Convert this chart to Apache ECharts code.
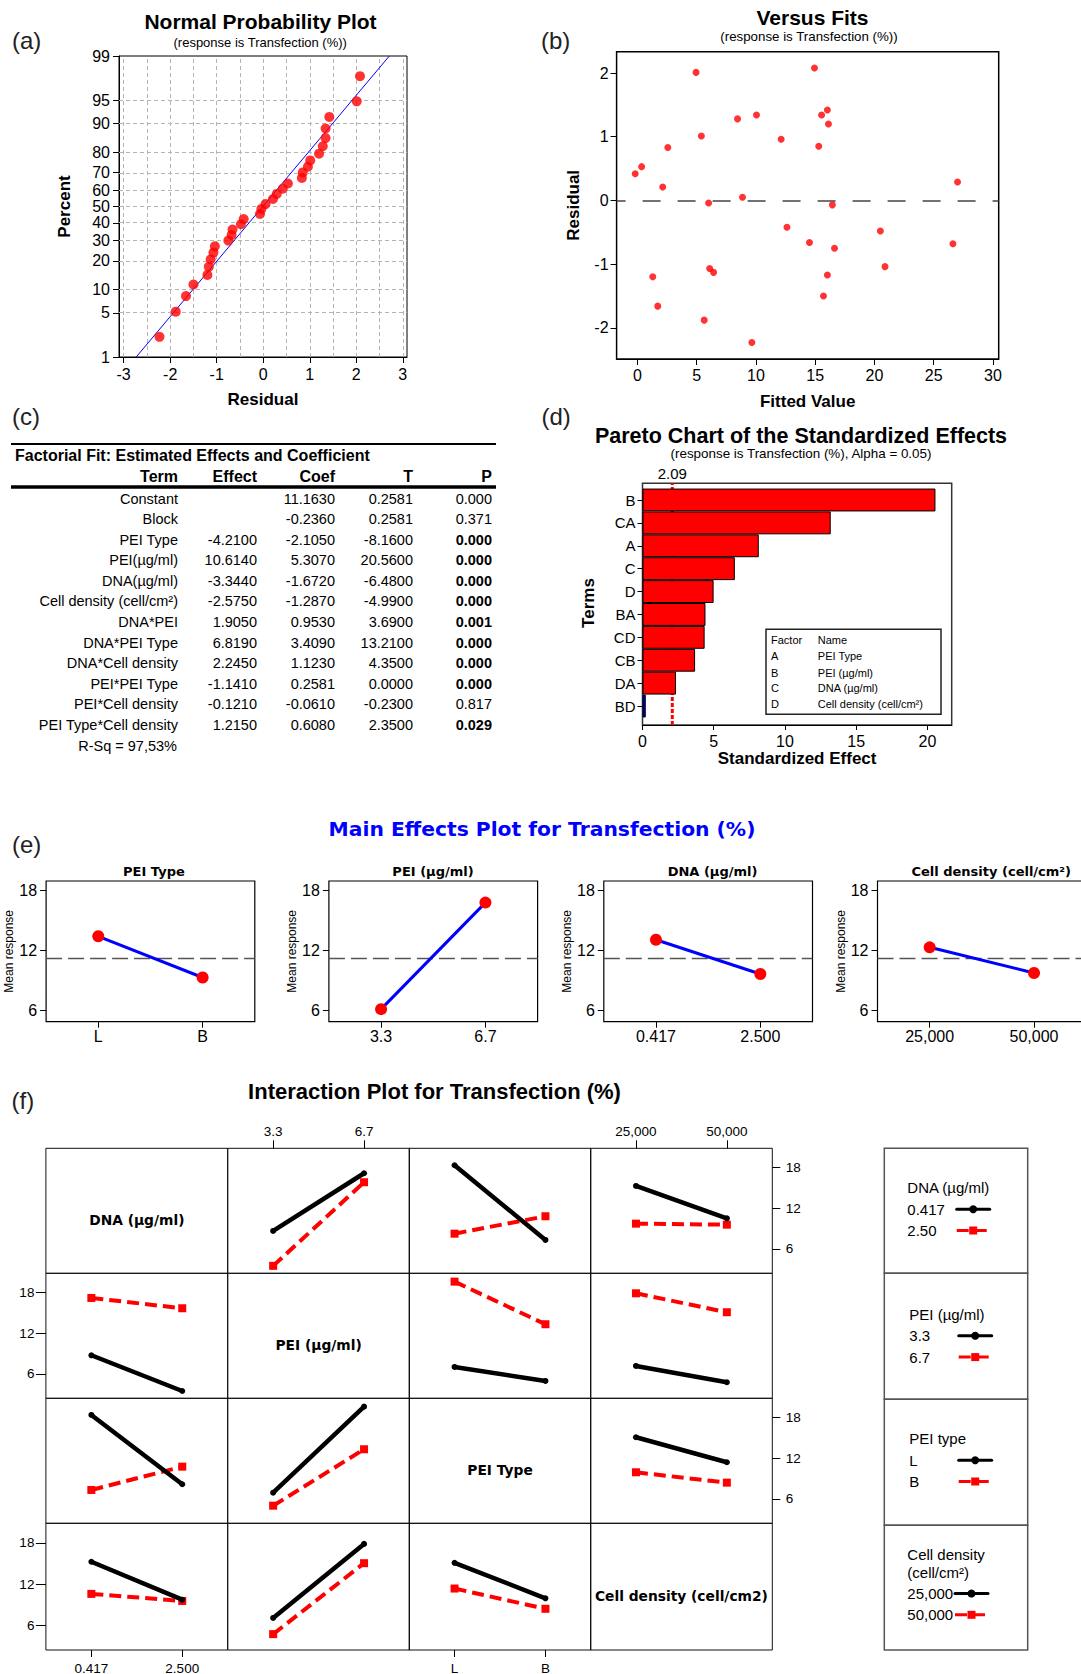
<!DOCTYPE html>
<html>
<head>
<meta charset="utf-8">
<title>Transfection DOE analysis</title>
<script src="https://cdn.jsdelivr.net/npm/echarts@6.0.0/dist/echarts.min.js"></script>
<style>
html,body{margin:0;padding:0;background:#ffffff;}
#chart{width:1081px;height:1674px;}
</style>
</head>
<body>
<div id="chart"></div>
<script>
// ================= DATA =================
// (a) normal probability plot / (b) versus fits
const fittedValues = [-0.18,0.36,1.30,1.72,2.14,2.57,4.95,5.40,5.64,6.01,6.10,6.43,8.45,8.87,9.66,10.05,12.13,12.62,14.52,14.94,15.30,15.54,15.70,16.03,16.03,16.12,16.45,16.63,20.50,20.89,26.62,27.01];
const residuals    = [0.42,0.53,-1.20,-1.66,0.21,0.83,2.01,1.01,-1.88,-0.04,-1.07,-1.13,1.28,0.05,-2.23,1.34,0.96,-0.42,-0.66,2.08,0.85,1.34,-1.50,1.42,-1.17,1.20,-0.07,-0.75,-0.48,-1.04,-0.68,0.29];
const probResiduals = [-2.23,-1.88,-1.66,-1.50,-1.20,-1.17,-1.13,-1.07,-1.04,-0.75,-0.68,-0.66,-0.48,-0.42,-0.07,-0.04,0.05,0.21,0.29,0.42,0.53,0.83,0.85,0.96,1.01,1.20,1.28,1.34,1.34,1.42,2.01,2.08];
const probPercents  = [2.2,5.2,8.3,11.4,14.5,17.6,20.7,23.8,26.9,29.9,33.0,36.1,39.2,42.3,45.4,48.5,51.5,54.6,57.7,60.8,63.9,67.0,70.1,73.1,76.2,79.3,82.4,85.5,88.6,91.7,94.8,97.8];
const probFitResidual = [-2.73, 2.71];
const probFitPercent  = [1, 99];
const probTickPercent = [1,5,10,20,30,40,50,60,70,80,90,95,99];
const residTickLabels = [-3,-2,-1,0,1,2,3];
const residGridLines  = [-3,-2.5,-2,-1.5,-1,-0.5,0,0.5,1,1.5,2,2.5,3];
const fitTickLabels   = [0,5,10,15,20,25,30];
const residualTickLabels = [-2,-1,0,1,2];

// (c) table
const tableTitle  = 'Factorial Fit: Estimated Effects and Coefficient';
const tableHeader = ['Term','Effect','Coef','T','P'];
const tableTerms  = ['Constant','Block','PEI Type','PEI(µg/ml)','DNA(µg/ml)','Cell density (cell/cm²)','DNA*PEI','DNA*PEI Type','DNA*Cell density','PEI*PEI Type','PEI*Cell density','PEI Type*Cell density'];
const tableEffect = ['','','-4.2100','10.6140','-3.3440','-2.5750','1.9050','6.8190','2.2450','-1.1410','-0.1210','1.2150'];
const tableCoef   = ['11.1630','-0.2360','-2.1050','5.3070','-1.6720','-1.2870','0.9530','3.4090','1.1230','0.2581','-0.0610','0.6080'];
const tableT      = ['0.2581','0.2581','-8.1600','20.5600','-6.4800','-4.9900','3.6900','13.2100','4.3500','0.0000','-0.2300','2.3500'];
const tableP      = ['0.000','0.371','0.000','0.000','0.000','0.000','0.001','0.000','0.000','0.000','0.817','0.029'];
const tablePBold  = [false,false,true,true,true,true,true,true,true,true,false,true];
const tableRSq    = 'R-Sq = 97,53%';

// (d) pareto
const paretoTerms   = ['B','CA','A','C','D','BA','CD','CB','DA','BD'];
const paretoEffects = [20.56,13.21,8.16,6.48,4.99,4.42,4.36,3.69,2.35,0.23];
const paretoCritical = 2.09;
const paretoTicks = [0,5,10,15,20];
const paretoFactorLetters = ['A','B','C','D'];
const paretoFactorNames   = ['PEI Type','PEI (µg/ml)','DNA (µg/ml)','Cell density (cell/cm²)'];

// (e) main effects
const mainFactorTitles = ['PEI Type','PEI (µg/ml)','DNA (µg/ml)','Cell density (cell/cm²)'];
const mainLevelLabels  = [['L','B'],['3.3','6.7'],['0.417','2.500'],['25,000','50,000']];
const meanPEIType     = [13.4, 9.3];
const meanPEI         = [6.15, 16.75];
const meanDNA         = [13.05, 9.65];
const meanCellDensity = [12.3, 9.75];
const overallMean = 11.25;
const meanTicks = [6,12,18];

// (f) interaction plot: [low-level trace, high-level trace] over the two x levels
const intFactorLabels = ['DNA (µg/ml)','PEI (µg/ml)','PEI Type','Cell density (cell/cm2)'];
const intAxisLevels   = [['0.417','2.500'],['3.3','6.7'],['L','B'],['25,000','50,000']];
const intLegendTitles = [['DNA (µg/ml)'],['PEI (µg/ml)'],['PEI type'],['Cell density','(cell/cm²)']];
const intLegendLevels = [['0.417','2.50'],['3.3','6.7'],['L','B'],['25,000','50,000']];
const intDNA_byPEI   = [[8.65,17.17],[3.50,15.84]];
const intDNA_byType  = [[18.35,7.32],[8.25,10.82]];
const intDNA_byCell  = [[15.29,10.52],[9.73,9.58]];
const intPEI_byDNA   = [[8.75,3.48],[17.21,15.69]];
const intPEI_byType  = [[7.03,4.96],[19.62,13.33]];
const intPEI_byCell  = [[7.18,4.77],[17.90,15.10]];
const intType_byDNA  = [[18.39,8.16],[7.32,10.76]];
const intType_byPEI  = [[6.92,19.62],[5.00,13.33]];
const intType_byCell = [[15.10,11.41],[9.93,8.40]];
const intCell_byDNA  = [[15.25,9.73],[10.57,9.54]];
const intCell_byPEI  = [[7.07,17.85],[4.71,15.04]];
const intCell_byType = [[15.10,9.93],[11.35,8.40]];

// ================= BUILD =================
const FF = '"Liberation Sans", Arial, Helvetica, sans-serif';
const FV = '"DejaVu Sans", Verdana, sans-serif';
const grid = [], xAxis = [], yAxis = [], series = [], graphic = [], legend = [];

function probit(p) {
  const a=[-3.969683028665376e+01,2.209460984245205e+02,-2.759285104469687e+02,1.383577518672690e+02,-3.066479806614716e+01,2.506628277459239e+00];
  const b=[-5.447609879822406e+01,1.615858368580409e+02,-1.556989798598866e+02,6.680131188771972e+01,-1.328068155288572e+01];
  const c=[-7.784894002430293e-03,-3.223964580411365e-01,-2.400758277161838e+00,-2.549732539343734e+00,4.374664141464968e+00,2.938163982698783e+00];
  const d=[7.784695709041462e-03,3.224671290700398e-01,2.445134137142996e+00,3.754408661907416e+00];
  const pl=0.02425, ph=1-pl; let q, r;
  if (p < pl) { q=Math.sqrt(-2*Math.log(p)); return (((((c[0]*q+c[1])*q+c[2])*q+c[3])*q+c[4])*q+c[5])/((((d[0]*q+d[1])*q+d[2])*q+d[3])*q+1); }
  if (p > ph) { q=Math.sqrt(-2*Math.log(1-p)); return -(((((c[0]*q+c[1])*q+c[2])*q+c[3])*q+c[4])*q+c[5])/((((d[0]*q+d[1])*q+d[2])*q+d[3])*q+1); }
  q=p-0.5; r=q*q;
  return (((((a[0]*r+a[1])*r+a[2])*r+a[3])*r+a[4])*r+a[5])*q/(((((b[0]*r+b[1])*r+b[2])*r+b[3])*r+b[4])*r+1);
}

function T(x, y, text, size, weight, align, color, family) {
  graphic.push({type:'text', x:x, y:y, silent:true, z:10,
    style:{text:text, fontSize:size, fontWeight:weight||'normal', fontFamily:family||FF, fill:color||'#000', align:align||'left', verticalAlign:'middle'}});
}
function L(x1, y1, x2, y2, w) {
  graphic.push({type:'line', silent:true, shape:{x1:x1,y1:y1,x2:x2,y2:y2}, style:{stroke:'#000', lineWidth:w}});
}
function addGrid(left, top, width, height, bw, bc) {
  return grid.push({left:left, top:top, width:width, height:height, show:true, borderColor:bc||'#000', borderWidth:bw||1,
    backgroundColor:'transparent', containLabel:false, outerBoundsMode:'none'}) - 1;
}
function axis(o) {
  const a = {
    gridIndex:o.gridIndex, type:o.type||'value', show:o.show!==false,
    axisLine:{show:!!o.line, onZero:false, lineStyle:{color:'#000', width:o.lineWidth||1}},
    axisTick:{show:!!o.ticks, length:o.tickLen||6, alignWithLabel:true, lineStyle:{color:'#000', width:1}},
    axisLabel:{show:!!o.labels, margin:o.margin==null?8:o.margin, fontSize:o.fontSize||16, fontFamily:FF, color:'#000', hideOverlap:false},
    splitLine:{show:false}, splitArea:{show:false}, minorTick:{show:false}, minorSplitLine:{show:false}
  };
  ['position','min','max','data','inverse'].forEach(k => { if (o[k] !== undefined) a[k] = o[k]; });
  if (a.type === 'category') a.boundaryGap = true;
  if (Array.isArray(o.ticks)) a.axisTick.customValues = o.ticks;
  if (Array.isArray(o.labels)) a.axisLabel.customValues = o.labels;
  if (o.formatter) a.axisLabel.formatter = o.formatter;
  if (o.name) {
    a.name = o.name; a.nameLocation = 'middle'; a.nameGap = o.nameGap;
    if (o.nameRotate != null) a.nameRotate = o.nameRotate;
    a.nameTextStyle = {fontSize:o.nameSize||17, fontWeight:o.nameWeight||'bold', fontFamily:FF, color:'#000'};
  }
  return a;
}
function hiddenAxes(g) {
  const xi = xAxis.push(axis({gridIndex:g, show:false, min:0, max:1})) - 1;
  const yi = yAxis.push(axis({gridIndex:g, show:false, min:0, max:1})) - 1;
  return [xi, yi];
}

// ---------- panel labels ----------
T(12, 40, '(a)', 24, 'normal', 'left', '#222');
T(541, 40, '(b)', 24, 'normal', 'left', '#222');
T(12, 416.5, '(c)', 24, 'normal', 'left', '#222');
T(541.5, 416.5, '(d)', 24, 'normal', 'left', '#222');
T(12, 844, '(e)', 24, 'normal', 'left', '#222');
T(11.5, 1100.5, '(f)', 24, 'normal', 'left', '#222');

// ---------- (a) ----------
T(260.5, 21, 'Normal Probability Plot', 21, 'bold', 'center');
T(260.2, 42, '(response is Transfection (%))', 13, 'normal', 'center');
const zTicks = probTickPercent.map(p => probit(p / 100));
const gA = addGrid(119, 56, 288, 301, 1, '#000');
const xA = xAxis.push(axis({gridIndex:gA, min:-3.1, max:3.09, line:true, ticks:residTickLabels, labels:residTickLabels,
  tickLen:6, margin:9, fontSize:16, name:'Residual', nameGap:34})) - 1;
const yA = yAxis.push(axis({gridIndex:gA, min:zTicks[0], max:zTicks[zTicks.length-1], line:true, ticks:zTicks, labels:zTicks,
  tickLen:6, margin:9, fontSize:16, name:'Percent', nameGap:46,
  formatter: v => { let best = 0; zTicks.forEach((z,i) => { if (Math.abs(z - v) < Math.abs(zTicks[best] - v)) best = i; }); return String(probTickPercent[best]); }
})) - 1;
series.push({type:'scatter', xAxisIndex:xA, yAxisIndex:yA, z:3, symbolSize:10, itemStyle:{color:'#ff0000'},
  data: probResiduals.map((r,i) => [r, probit(probPercents[i] / 100)]),
  markLine:{silent:true, symbol:'none', z:1, animation:false, label:{show:false}, emphasis:{disabled:true},
    lineStyle:{color:'#b4b4b4', width:1, type:[4,3]},
    data: residGridLines.map(v => ({xAxis:v})).concat(zTicks.slice(1, -1).map(v => ({yAxis:v})))}});
series.push({type:'line', xAxisIndex:xA, yAxisIndex:yA, z:2, symbol:'none', lineStyle:{color:'#0000ff', width:1},
  data: probFitResidual.map((r,i) => [r, probit(probFitPercent[i] / 100)])});

// ---------- (b) ----------
T(812.5, 17.3, 'Versus Fits', 21, 'bold', 'center');
T(809, 36.7, '(response is Transfection (%))', 13.3, 'normal', 'center');
const gB = addGrid(616.6, 51.7, 382.1, 307.3, 1.5, '#000');
const xB = xAxis.push(axis({gridIndex:gB, min:-1.75, max:30.48, line:true, ticks:fitTickLabels, labels:fitTickLabels,
  tickLen:6, margin:8.5, fontSize:16, name:'Fitted Value', nameGap:34})) - 1;
const yB = yAxis.push(axis({gridIndex:gB, min:-2.49, max:2.335, line:true, ticks:residualTickLabels, labels:residualTickLabels,
  tickLen:6, margin:8, fontSize:16, name:'Residual', nameGap:35})) - 1;
series.push({type:'scatter', xAxisIndex:xB, yAxisIndex:yB, z:3, symbolSize:7, itemStyle:{color:'#ff0000'},
  data: fittedValues.map((f,i) => [f, residuals[i]]),
  markLine:{silent:true, symbol:'none', z:1, animation:false, label:{show:false}, emphasis:{disabled:true},
    lineStyle:{color:'#444', width:1.5, type:[18,17], dashOffset:9}, data:[{yAxis:0}]}});

// ---------- (c) table ----------
const tblColRight = [178, 257, 335, 413, 492];
L(11, 444, 496, 444, 2);
L(11, 487, 496, 487, 3.5);
T(15, 455, tableTitle, 16, 'bold', 'left');
tableHeader.forEach((h,i) => T(tblColRight[i], 476, h, 16, 'bold', 'right'));
tableTerms.forEach((term, i) => {
  const y = 498.7 + i * 20.55;
  T(tblColRight[0], y, term, 14.5, 'normal', 'right');
  if (tableEffect[i]) T(tblColRight[1], y, tableEffect[i], 14.5, 'normal', 'right');
  T(tblColRight[2], y, tableCoef[i], 14.5, 'normal', 'right');
  T(tblColRight[3], y, tableT[i], 14.5, 'normal', 'right');
  T(tblColRight[4], y, tableP[i], 14.5, tablePBold[i] ? 'bold' : 'normal', 'right');
});
T(177, 746, tableRSq, 14.5, 'normal', 'right');

// ---------- (d) pareto ----------
T(801, 435.5, 'Pareto Chart of the Standardized Effects', 21.5, 'bold', 'center');
T(801, 453.3, '(response is Transfection (%), Alpha = 0.05)', 13.4, 'normal', 'center');
const gD2 = addGrid(642.5, 483.3, 309.2, 241.7, 1.5, '#333');
const xD2 = xAxis.push(axis({gridIndex:gD2, min:0, max:21.7, position:'bottom', line:true, ticks:paretoTicks, labels:paretoTicks,
  tickLen:5, margin:8, fontSize:16, name:'Standardized Effect', nameGap:25})) - 1;
const xD2t = xAxis.push(axis({gridIndex:gD2, min:0, max:21.7, position:'top', line:false, ticks:false, labels:[paretoCritical],
  margin:2, fontSize:15})) - 1;
const yD2 = yAxis.push(axis({gridIndex:gD2, show:false, min:0, max:1})) - 1;
series.push({type:'line', xAxisIndex:xD2, yAxisIndex:yD2, z:1, symbol:'none', silent:true,
  lineStyle:{color:'#ff0000', width:3, type:[4,2]}, data:[[paretoCritical,0],[paretoCritical,1]]});
const gD1 = grid.push({left:642.5, top:488.56, width:309.2, height:228.9, show:false, containLabel:false, outerBoundsMode:'none'}) - 1;
const xD1 = xAxis.push(axis({gridIndex:gD1, show:false, min:0, max:21.7})) - 1;
const yD1 = yAxis.push(axis({gridIndex:gD1, type:'category', data:paretoTerms, inverse:true, line:false, ticks:true, labels:true,
  tickLen:5, margin:7, fontSize:15, name:'Terms', nameGap:46})) - 1;
series.push({type:'bar', xAxisIndex:xD1, yAxisIndex:yD1, z:2, barCategoryGap:'0%',
  data: paretoEffects.map(v => ({value:v, itemStyle:{color: v >= paretoCritical ? '#ff0000' : '#0000c8', borderColor:'#000', borderWidth:1}}))});
graphic.push({type:'rect', silent:true, shape:{x:766, y:629.3, width:175, height:85}, style:{fill:'#fff', stroke:'#222', lineWidth:1.5}, z:5});
T(771, 640, 'Factor', 11, 'normal', 'left');
T(817.8, 640, 'Name', 11, 'normal', 'left');
paretoFactorLetters.forEach((f,i) => {
  const y = [656, 672.7, 688.3, 704][i];
  T(771, y, f, 11, 'normal', 'left');
  T(817.8, y, paretoFactorNames[i], 11, 'normal', 'left');
});

// ---------- (e) main effects ----------
T(542, 829, 'Main Effects Plot for Transfection (%)', 20.3, 'bold', 'center', '#0000ff', FV);
const mainLefts = [46.1, 328.9, 603.8, 877.5];
const mainTitleX = [153.9, 433, 712.5, 991.2];
const mainMeans = [meanPEIType, meanPEI, meanDNA, meanCellDensity];
mainFactorTitles.forEach((t,k) => {
  const g = addGrid(mainLefts[k], 881, 208.7, 140.7, 1.2, '#000');
  const xi = xAxis.push(axis({gridIndex:g, type:'category', data:mainLevelLabels[k], ticks:true, labels:true, tickLen:6, margin:7, fontSize:16})) - 1;
  const yi = yAxis.push(axis({gridIndex:g, min:4.9, max:18.9, ticks:meanTicks, labels:meanTicks, tickLen:6, margin:9, fontSize:16,
    name:'Mean response', nameGap:29, nameSize:12, nameWeight:'normal'})) - 1;
  series.push({type:'line', xAxisIndex:xi, yAxisIndex:yi, z:3, data:mainMeans[k], symbol:'circle', symbolSize:12,
    lineStyle:{color:'#0000ff', width:3}, itemStyle:{color:'#ff0000'},
    markLine:{silent:true, symbol:'none', z:1, animation:false, label:{show:false}, emphasis:{disabled:true},
      lineStyle:{color:'#555', width:1.3, type:[16,6]}, data:[{yAxis:overallMean}]}});
  T(mainTitleX[k], 871.5, t, 13, 'bold', 'center', '#000', FV);
});

// ---------- (f) interaction ----------
T(434.5, 1091.7, 'Interaction Plot for Transfection (%)', 22, 'bold', 'center');
const intLefts = [45.9, 227.7, 409.1, 590.5], intW = 181.8;
const intTops = [1148.3, 1273.3, 1398.3, 1523.3], intH = [125, 125, 125, 126.7];
const intCells = [
  [null, intDNA_byPEI, intDNA_byType, intDNA_byCell],
  [intPEI_byDNA, null, intPEI_byType, intPEI_byCell],
  [intType_byDNA, intType_byPEI, null, intType_byCell],
  [intCell_byDNA, intCell_byPEI, intCell_byType, null]
];
for (let r = 0; r < 4; r++) {
  for (let c = 0; c < 4; c++) {
    const g = addGrid(intLefts[c], intTops[r], intW, intH[r], 1, '#111');
    if (r === c) {
      hiddenAxes(g);
      T(intLefts[c] + intW / 2, intTops[r] + intH[r] / 2 + 9.5, intFactorLabels[r], 13.8, 'bold', 'center', '#000', FV);
      continue;
    }
    const xTop = r === 0 && (c === 1 || c === 3);
    const xBot = r === 3 && (c === 0 || c === 2);
    const xi = xAxis.push(axis({gridIndex:g, type:'category', data:intAxisLevels[c], position: xTop ? 'top' : 'bottom',
      ticks: xTop || xBot, labels: xTop || xBot, tickLen: xTop ? 8 : 7, margin: xTop ? 10 : 11, fontSize:13.5})) - 1;
    const yL = c === 0 && (r === 1 || r === 3);
    const yR = c === 3 && (r === 0 || r === 2);
    const yi = yAxis.push(axis({gridIndex:g, min:2.4, max:20.85, position: yR ? 'right' : 'left',
      ticks: (yL || yR) ? meanTicks : false, labels: (yL || yR) ? meanTicks : false,
      tickLen: yL ? 10 : 8, margin: yL ? 11.5 : 13.5, fontSize:13.5})) - 1;
    const cell = intCells[r][c];
    series.push({type:'line', name:intLegendLevels[r][0], xAxisIndex:xi, yAxisIndex:yi, z:4, data:cell[0],
      symbol:'circle', symbolSize:6, itemStyle:{color:'#000'}, lineStyle:{color:'#000', width:4.5, cap:'round'}});
    series.push({type:'line', name:intLegendLevels[r][1], xAxisIndex:xi, yAxisIndex:yi, z:3, data:cell[1],
      symbol:'rect', symbolSize:8, itemStyle:{color:'#ff0000'}, lineStyle:{color:'#ff0000', width:4, type:[12,6]}});
  }
}
// legend boxes
const legTops = [1148.3, 1273.3, 1399.3, 1525.3], legH = [125, 126, 126, 124.7];
const legTextLeft = [907.3, 909.3, 909.3, 907.3];
const legItemTop = [1201.7, 1328.3, 1452.7, 1586];
const legTextW = [44.4, 44.4, 44.4, 42.7];
const legTitleY = [[1187], [1314], [1438.3], [1554, 1572.7]];
for (let r = 0; r < 4; r++) {
  const g = addGrid(884.3, legTops[r], 143.4, legH[r], 1.5, '#555');
  hiddenAxes(g);
  intLegendTitles[r].forEach((t, k) => T(legTextLeft[r], legTitleY[r][k], t, 15, 'normal', 'left'));
  legend.push({data:intLegendLevels[r], orient:'vertical', align:'right', left:legTextLeft[r], top:legItemTop[r],
    padding:0, itemGap:6.3, itemWidth:33, itemHeight:10, selectedMode:false,
    lineStyle:{width:3}, formatter:'{t|{name}}',
    textStyle:{color:'#000', fontFamily:FF, fontSize:15,
      rich:{t:{width:legTextW[r], align:'left', fontSize:15, fontFamily:FF, color:'#000', lineHeight:18}}}});
}

const chart = echarts.init(document.getElementById('chart'), null, {renderer:'svg', width:1081, height:1674});
chart.setOption({
  animation:false,
  backgroundColor:'#ffffff',
  textStyle:{fontFamily:FF},
  grid:grid, xAxis:xAxis, yAxis:yAxis, series:series, legend:legend,
  graphic:{elements:graphic}
});
</script>
</body>
</html>
